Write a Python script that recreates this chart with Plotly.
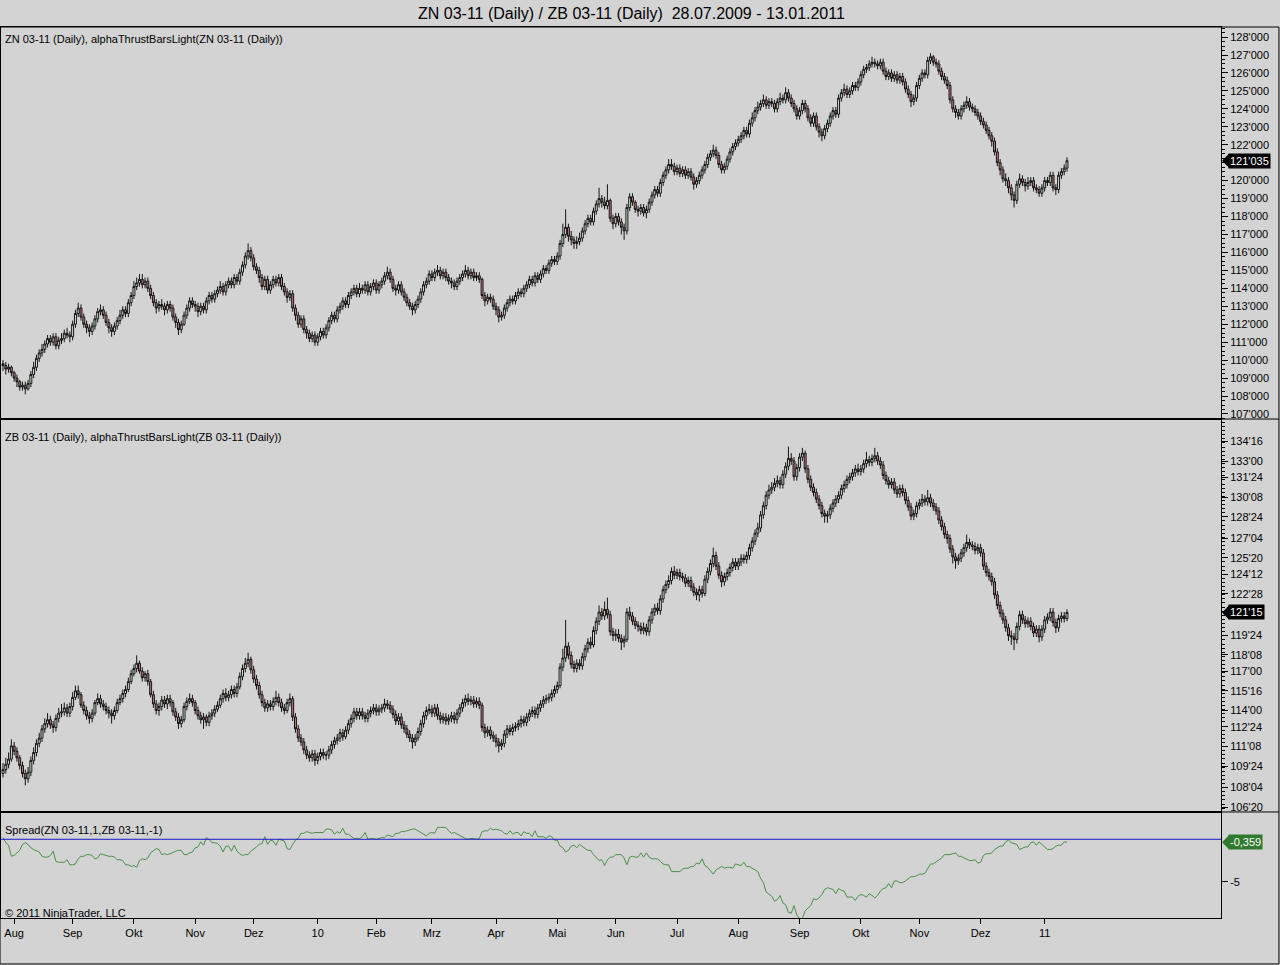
import pandas as pd
import plotly.graph_objects as go
from plotly.subplots import make_subplots

# trading days shown on the chart (one bar per weekday)
dates = pd.bdate_range('2009-07-28', '2011-01-13').strftime('%Y-%m-%d').tolist()

month_labels = ['Aug', 'Sep', 'Okt', 'Nov', 'Dez', '10', 'Feb', 'Mrz', 'Apr',
                'Mai', 'Jun', 'Jul', 'Aug', 'Sep', 'Okt', 'Nov', 'Dez', '11']

zn_open = [
    109.8, 109.7, 109.5, 109.6, 109.3, 109.0, 108.8, 108.5, 108.6, 108.4,
    108.7, 109.2, 109.6, 110.1, 110.4, 110.6, 110.9, 111.2, 111.0, 111.3,
    110.8, 111.1, 111.2, 111.5, 111.4, 111.3, 112.0, 112.6, 112.9, 112.4,
    112.0, 111.8, 111.6, 111.9, 112.3, 112.7, 112.8, 112.5, 112.1, 111.8,
    111.6, 111.9, 112.2, 112.5, 112.8, 112.6, 113.2, 113.6, 114.1, 114.3,
    114.5, 114.2, 114.4, 114.0, 113.6, 113.2, 112.9, 113.1, 113.0, 112.8,
    113.1, 112.9, 112.4, 112.1, 111.7, 112.0, 112.5, 112.9, 113.3, 113.1,
    113.0, 112.7, 113.0, 112.8, 113.3, 113.6, 113.4, 113.7, 113.9, 114.1,
    113.8, 114.2, 114.4, 114.2, 114.6, 114.4, 114.9, 115.3, 115.8, 116.1,
    115.7, 115.2, 115.0, 114.6, 114.1, 114.5, 113.9, 114.2, 114.5, 114.3,
    114.6, 114.1, 113.8, 113.5, 113.7, 112.9, 112.5, 112.0, 112.3, 111.7,
    111.5, 111.2, 111.4, 111.0, 111.3, 111.6, 111.4, 111.8, 112.2, 112.5,
    112.3, 112.8, 113.0, 113.3, 113.1, 113.6, 113.8, 114.0, 113.7, 114.0,
    113.9, 114.2, 113.8, 114.1, 114.3, 113.9, 114.2, 114.4, 114.7, 114.9,
    114.5, 114.0, 113.9, 114.2, 113.8, 113.5, 113.2, 113.0, 112.8, 113.1,
    113.4, 113.8, 114.2, 114.4, 114.8, 114.6, 114.9, 115.0, 114.7, 114.9,
    114.6, 114.4, 114.3, 114.1, 114.4, 114.6, 114.8, 115.0, 114.7, 114.9,
    114.6, 114.7, 114.5, 113.6, 113.3, 113.5, 113.4, 113.0, 112.8, 112.4,
    112.5, 112.9, 113.2, 113.4, 113.3, 113.6, 113.8, 113.7, 114.0, 114.2,
    114.5, 114.3, 114.7, 114.5, 114.8, 115.1, 115.0, 115.4, 115.6, 115.5,
    115.8, 116.5, 117.0, 117.4, 116.9, 116.7, 116.5, 116.6, 116.8, 117.2,
    117.6, 117.9, 117.7, 118.3, 118.7, 119.0, 118.8, 118.6, 118.9, 117.9,
    117.6, 118.0, 117.7, 117.4, 117.2, 118.5, 119.1, 118.8, 118.4, 118.3,
    118.5, 118.2, 118.4, 118.8, 119.2, 119.5, 119.3, 119.9, 120.3, 120.6,
    120.9, 120.8, 120.5, 120.7, 120.4, 120.6, 120.3, 120.5, 120.2, 119.8,
    120.0, 120.3, 120.6, 120.9, 121.3, 121.5, 121.7, 121.4, 120.9, 120.6,
    120.8, 121.2, 121.6, 121.9, 122.1, 122.3, 122.5, 122.8, 122.6, 123.2,
    123.5, 123.9, 124.1, 124.3, 124.5, 124.2, 124.4, 124.3, 124.0, 124.4,
    124.6, 124.5, 124.9, 124.6, 124.3, 124.0, 123.6, 123.9, 124.3, 124.0,
    123.5, 123.2, 123.6, 123.0, 122.7, 122.5, 122.9, 123.2, 123.6, 123.9,
    123.7, 124.6, 124.9, 125.1, 124.8, 125.0, 125.3, 125.2, 125.5, 125.9,
    126.2, 126.3, 126.5, 126.6, 126.5, 126.4, 126.6, 126.1, 125.8, 126.0,
    125.7, 125.9, 125.6, 125.8, 125.5, 125.1, 124.8, 124.4, 124.6, 125.3,
    125.7, 126.0, 125.9, 126.7, 126.9, 126.6, 126.5, 126.1, 125.8, 125.6,
    125.3, 124.5, 124.0, 123.8, 123.6, 124.0, 124.2, 124.4, 124.1, 124.0,
    123.8, 123.6, 123.3, 123.1, 122.8, 122.5, 122.2, 121.6, 121.0, 120.6,
    120.1, 120.0, 119.6, 119.2, 118.9, 119.8, 120.1, 119.9, 119.7, 119.9,
    120.0, 119.6, 119.5, 119.3, 119.6, 120.0, 119.9, 120.3, 119.6, 119.5,
    120.3, 120.5, 120.7,
]
zn_high = [
    110.0, 109.9, 109.8, 109.7, 109.4, 109.2, 108.9, 108.8, 108.8, 108.9,
    109.4, 109.9, 110.3, 110.6, 110.9, 111.1, 111.4, 111.4, 111.5, 111.5,
    111.3, 111.5, 111.7, 111.8, 111.6, 112.2, 112.8, 113.2, 113.1, 112.6,
    112.2, 112.0, 112.1, 112.5, 112.9, 113.1, 113.0, 112.7, 112.3, 112.0,
    112.1, 112.4, 112.8, 113.0, 113.0, 113.4, 113.8, 114.4, 114.6, 114.8,
    114.8, 114.6, 114.6, 114.2, 113.8, 113.4, 113.3, 113.4, 113.2, 113.3,
    113.3, 113.1, 112.6, 112.3, 112.2, 112.7, 113.1, 113.5, 113.5, 113.3,
    113.2, 113.2, 113.2, 113.5, 113.8, 113.8, 113.9, 114.1, 114.4, 114.3,
    114.4, 114.6, 114.6, 114.8, 114.8, 115.1, 115.5, 116.0, 116.5, 116.3,
    115.9, 115.4, 115.2, 114.8, 114.7, 114.7, 114.4, 114.7, 114.7, 114.8,
    114.8, 114.3, 114.0, 113.9, 113.9, 113.1, 112.7, 112.5, 112.5, 111.9,
    111.7, 111.6, 111.6, 111.5, 111.8, 111.8, 112.0, 112.4, 112.7, 112.7,
    113.0, 113.2, 113.5, 113.5, 113.8, 114.0, 114.2, 114.2, 114.3, 114.2,
    114.4, 114.4, 114.3, 114.5, 114.5, 114.4, 114.6, 114.9, 115.2, 115.1,
    114.7, 114.2, 114.4, 114.4, 114.0, 113.7, 113.4, 113.2, 113.3, 113.6,
    114.0, 114.4, 114.6, 115.0, 115.0, 115.1, 115.3, 115.2, 115.1, 115.1,
    114.8, 114.6, 114.5, 114.6, 114.8, 115.0, 115.3, 115.2, 115.1, 115.1,
    114.9, 114.9, 114.6, 113.8, 113.7, 113.7, 113.6, 113.2, 113.0, 112.7,
    113.1, 113.4, 113.6, 113.6, 113.8, 114.0, 114.0, 114.2, 114.4, 114.7,
    114.7, 114.9, 114.9, 115.0, 115.3, 115.3, 115.6, 115.8, 115.8, 116.0,
    116.7, 117.6, 118.4, 117.6, 117.2, 116.9, 116.9, 117.1, 117.4, 117.8,
    118.1, 118.1, 118.5, 118.9, 119.6, 119.2, 119.1, 119.8, 119.0, 118.1,
    118.2, 118.2, 117.9, 117.6, 118.7, 119.3, 119.3, 118.9, 118.6, 118.7,
    118.7, 118.6, 119.0, 119.4, 119.7, 119.7, 120.1, 120.5, 120.8, 121.2,
    121.2, 121.0, 120.9, 120.9, 120.8, 120.8, 120.7, 120.7, 120.4, 120.2,
    120.5, 120.8, 121.1, 121.5, 121.7, 122.0, 121.9, 121.6, 121.1, 121.0,
    121.4, 121.8, 122.1, 122.3, 122.5, 122.7, 123.0, 123.0, 123.4, 123.8,
    124.1, 124.4, 124.5, 124.8, 124.7, 124.6, 124.6, 124.5, 124.6, 124.9,
    124.8, 125.2, 125.1, 124.8, 124.5, 124.2, 124.1, 124.5, 124.5, 124.2,
    123.7, 123.8, 123.8, 123.2, 122.9, 123.1, 123.4, 123.8, 124.1, 124.1,
    124.8, 125.1, 125.4, 125.3, 125.2, 125.5, 125.5, 125.7, 126.1, 126.4,
    126.5, 126.7, 126.9, 126.8, 126.7, 126.8, 126.8, 126.3, 126.2, 126.2,
    126.1, 126.1, 126.0, 126.0, 125.7, 125.3, 125.0, 124.8, 125.5, 125.9,
    126.2, 126.2, 126.9, 127.1, 127.0, 126.8, 126.7, 126.3, 126.0, 125.8,
    125.5, 124.7, 124.2, 124.0, 124.2, 124.4, 124.7, 124.6, 124.3, 124.2,
    124.0, 123.8, 123.5, 123.3, 123.0, 122.7, 122.4, 121.8, 121.2, 120.8,
    120.4, 120.2, 119.8, 119.4, 120.0, 120.4, 120.3, 120.1, 120.2, 120.2,
    120.2, 119.8, 119.7, 119.8, 120.2, 120.2, 120.5, 120.5, 119.8, 120.5,
    120.7, 120.9, 121.3,
]
zn_low = [
    109.4, 109.2, 109.3, 109.1, 108.8, 108.5, 108.3, 108.3, 108.1, 108.3,
    108.5, 109.0, 109.4, 109.9, 110.2, 110.4, 110.7, 110.8, 110.8, 110.6,
    110.6, 110.9, 111.0, 111.2, 111.0, 111.1, 111.8, 112.4, 112.2, 111.8,
    111.5, 111.3, 111.4, 111.7, 112.1, 112.5, 112.3, 111.9, 111.5, 111.3,
    111.4, 111.7, 112.0, 112.3, 112.4, 112.4, 113.0, 113.4, 113.9, 114.1,
    114.0, 114.0, 113.8, 113.4, 113.0, 112.6, 112.7, 112.8, 112.5, 112.6,
    112.7, 112.2, 111.8, 111.4, 111.5, 111.9, 112.3, 112.7, 112.9, 112.7,
    112.4, 112.5, 112.6, 112.6, 113.1, 113.2, 113.2, 113.5, 113.7, 113.6,
    113.6, 114.0, 114.0, 114.0, 114.2, 114.2, 114.7, 115.1, 115.6, 115.5,
    115.0, 114.8, 114.3, 113.9, 113.9, 113.7, 113.7, 114.0, 114.1, 114.1,
    113.9, 113.6, 113.2, 113.3, 112.7, 112.2, 111.8, 111.8, 111.5, 111.2,
    111.0, 111.0, 110.8, 110.8, 111.1, 111.2, 111.2, 111.6, 112.0, 112.1,
    112.1, 112.6, 112.8, 112.9, 112.9, 113.4, 113.6, 113.5, 113.5, 113.7,
    113.7, 113.6, 113.6, 113.9, 113.7, 113.7, 114.0, 114.2, 114.5, 114.3,
    113.8, 113.6, 113.7, 113.6, 113.3, 113.0, 112.8, 112.5, 112.6, 112.9,
    113.2, 113.6, 114.0, 114.2, 114.4, 114.4, 114.7, 114.5, 114.5, 114.4,
    114.2, 114.0, 113.9, 113.9, 114.2, 114.4, 114.6, 114.5, 114.5, 114.4,
    114.4, 114.3, 113.4, 113.0, 113.1, 113.2, 112.8, 112.5, 112.1, 112.2,
    112.3, 112.7, 113.0, 113.1, 113.1, 113.4, 113.5, 113.5, 113.8, 114.0,
    114.1, 114.1, 114.3, 114.3, 114.6, 114.8, 114.8, 115.2, 115.3, 115.3,
    115.6, 116.3, 116.8, 116.6, 116.4, 116.2, 116.2, 116.4, 116.6, 117.0,
    117.4, 117.5, 117.5, 118.1, 118.5, 118.5, 118.4, 118.4, 117.7, 117.3,
    117.4, 117.5, 117.0, 116.7, 117.0, 118.3, 118.6, 118.2, 118.0, 118.1,
    118.0, 117.9, 118.2, 118.6, 119.0, 119.1, 119.1, 119.7, 120.1, 120.4,
    120.6, 120.3, 120.3, 120.2, 120.2, 120.1, 120.1, 120.0, 119.5, 119.6,
    119.8, 120.1, 120.4, 120.7, 121.1, 121.3, 121.2, 120.7, 120.4, 120.4,
    120.6, 121.0, 121.4, 121.7, 121.9, 122.1, 122.3, 122.4, 122.4, 123.0,
    123.3, 123.7, 123.9, 124.1, 124.0, 124.0, 124.1, 123.8, 123.8, 124.2,
    124.3, 124.3, 124.4, 124.1, 123.8, 123.4, 123.4, 123.7, 123.8, 123.3,
    123.0, 123.0, 122.8, 122.4, 122.2, 122.3, 122.7, 123.0, 123.4, 123.5,
    123.5, 124.4, 124.7, 124.6, 124.6, 124.8, 125.0, 125.0, 125.3, 125.7,
    126.0, 126.1, 126.3, 126.3, 126.2, 126.2, 125.9, 125.6, 125.6, 125.5,
    125.5, 125.4, 125.4, 125.3, 124.9, 124.6, 124.1, 124.2, 124.4, 125.1,
    125.5, 125.7, 125.7, 126.5, 126.4, 126.3, 125.9, 125.6, 125.4, 125.1,
    124.3, 123.8, 123.5, 123.4, 123.4, 123.8, 124.0, 123.9, 123.8, 123.6,
    123.4, 123.1, 122.9, 122.6, 122.3, 121.9, 121.4, 120.8, 120.3, 119.9,
    119.7, 119.3, 118.9, 118.5, 118.7, 119.6, 119.7, 119.4, 119.5, 119.7,
    119.4, 119.3, 119.1, 119.1, 119.4, 119.7, 119.7, 119.4, 119.2, 119.3,
    120.1, 120.3, 120.5,
]
zn_close = [
    109.7, 109.5, 109.6, 109.3, 109.0, 108.8, 108.5, 108.6, 108.4, 108.7,
    109.2, 109.6, 110.1, 110.4, 110.6, 110.9, 111.2, 111.0, 111.3, 110.8,
    111.1, 111.2, 111.5, 111.4, 111.3, 112.0, 112.6, 112.9, 112.4, 112.0,
    111.8, 111.6, 111.9, 112.3, 112.7, 112.8, 112.5, 112.1, 111.8, 111.6,
    111.9, 112.2, 112.5, 112.8, 112.6, 113.2, 113.6, 114.1, 114.3, 114.5,
    114.2, 114.4, 114.0, 113.6, 113.2, 112.9, 113.1, 113.0, 112.8, 113.1,
    112.9, 112.4, 112.1, 111.7, 112.0, 112.5, 112.9, 113.3, 113.1, 113.0,
    112.7, 113.0, 112.8, 113.3, 113.6, 113.4, 113.7, 113.9, 114.1, 113.8,
    114.2, 114.4, 114.2, 114.6, 114.4, 114.9, 115.3, 115.8, 116.1, 115.7,
    115.2, 115.0, 114.6, 114.1, 114.5, 113.9, 114.2, 114.5, 114.3, 114.6,
    114.1, 113.8, 113.5, 113.7, 112.9, 112.5, 112.0, 112.3, 111.7, 111.5,
    111.2, 111.4, 111.0, 111.3, 111.6, 111.4, 111.8, 112.2, 112.5, 112.3,
    112.8, 113.0, 113.3, 113.1, 113.6, 113.8, 114.0, 113.7, 114.0, 113.9,
    114.2, 113.8, 114.1, 114.3, 113.9, 114.2, 114.4, 114.7, 114.9, 114.5,
    114.0, 113.9, 114.2, 113.8, 113.5, 113.2, 113.0, 112.8, 113.1, 113.4,
    113.8, 114.2, 114.4, 114.8, 114.6, 114.9, 115.0, 114.7, 114.9, 114.6,
    114.4, 114.3, 114.1, 114.4, 114.6, 114.8, 115.0, 114.7, 114.9, 114.6,
    114.7, 114.5, 113.6, 113.3, 113.5, 113.4, 113.0, 112.8, 112.4, 112.5,
    112.9, 113.2, 113.4, 113.3, 113.6, 113.8, 113.7, 114.0, 114.2, 114.5,
    114.3, 114.7, 114.5, 114.8, 115.1, 115.0, 115.4, 115.6, 115.5, 115.8,
    116.5, 117.0, 117.4, 116.9, 116.7, 116.5, 116.6, 116.8, 117.2, 117.6,
    117.9, 117.7, 118.3, 118.7, 119.0, 118.8, 118.6, 118.9, 117.9, 117.6,
    118.0, 117.7, 117.4, 117.2, 118.5, 119.1, 118.8, 118.4, 118.3, 118.5,
    118.2, 118.4, 118.8, 119.2, 119.5, 119.3, 119.9, 120.3, 120.6, 120.9,
    120.8, 120.5, 120.7, 120.4, 120.6, 120.3, 120.5, 120.2, 119.8, 120.0,
    120.3, 120.6, 120.9, 121.3, 121.5, 121.7, 121.4, 120.9, 120.6, 120.8,
    121.2, 121.6, 121.9, 122.1, 122.3, 122.5, 122.8, 122.6, 123.2, 123.5,
    123.9, 124.1, 124.3, 124.5, 124.2, 124.4, 124.3, 124.0, 124.4, 124.6,
    124.5, 124.9, 124.6, 124.3, 124.0, 123.6, 123.9, 124.3, 124.0, 123.5,
    123.2, 123.6, 123.0, 122.7, 122.5, 122.9, 123.2, 123.6, 123.9, 123.7,
    124.6, 124.9, 125.1, 124.8, 125.0, 125.3, 125.2, 125.5, 125.9, 126.2,
    126.3, 126.5, 126.6, 126.5, 126.4, 126.6, 126.1, 125.8, 126.0, 125.7,
    125.9, 125.6, 125.8, 125.5, 125.1, 124.8, 124.4, 124.6, 125.3, 125.7,
    126.0, 125.9, 126.7, 126.9, 126.6, 126.5, 126.1, 125.8, 125.6, 125.3,
    124.5, 124.0, 123.8, 123.6, 124.0, 124.2, 124.4, 124.1, 124.0, 123.8,
    123.6, 123.3, 123.1, 122.8, 122.5, 122.2, 121.6, 121.0, 120.6, 120.1,
    120.0, 119.6, 119.2, 118.9, 119.8, 120.1, 119.9, 119.7, 119.9, 120.0,
    119.6, 119.5, 119.3, 119.6, 120.0, 119.9, 120.3, 119.6, 119.5, 120.3,
    120.5, 120.7, 121.109375,
]

zb_open = [
    109.2, 109.5, 109.9, 110.3, 111.3, 110.9, 110.4, 109.8, 109.2, 108.8,
    109.3, 110.2, 110.8, 111.5, 111.9, 112.6, 113.0, 113.3, 112.9, 112.7,
    113.4, 113.8, 113.9, 114.2, 113.8, 114.3, 115.0, 115.5, 115.2, 114.4,
    114.0, 113.6, 113.4, 113.8, 114.6, 114.9, 114.5, 114.3, 114.0, 113.8,
    113.6, 114.0, 114.6, 114.9, 115.3, 115.6, 116.2, 116.8, 117.2, 117.6,
    117.0, 116.5, 116.8, 116.2, 115.2, 114.5, 114.0, 114.3, 114.8, 114.5,
    114.9, 114.6, 113.9, 113.5, 113.0, 113.3, 114.3, 114.7, 114.9, 114.6,
    114.0, 113.6, 113.3, 113.5, 113.1, 113.6, 113.8, 114.1, 114.4, 114.9,
    115.3, 115.0, 115.2, 115.6, 115.3, 115.8, 116.6, 117.2, 117.6, 117.9,
    117.1, 116.4, 115.9, 115.2, 114.6, 114.2, 114.5, 114.3, 114.7, 115.0,
    114.6, 114.2, 114.0, 114.6, 114.9, 113.5, 112.6, 111.9, 111.6, 111.0,
    110.6, 110.4, 110.7, 110.2, 110.5, 110.8, 110.6, 110.6, 111.0, 111.4,
    111.7, 111.9, 112.3, 112.0, 112.5, 113.0, 113.4, 113.9, 113.6, 113.9,
    113.6, 113.4, 113.8, 114.0, 114.2, 113.9, 114.1, 114.2, 114.5, 114.4,
    114.1, 113.7, 113.2, 113.5, 112.9, 112.6, 112.2, 111.9, 111.6, 111.9,
    112.4, 113.0, 113.6, 114.0, 114.1, 113.8, 114.2, 113.6, 113.3, 113.5,
    113.2, 113.4, 113.6, 113.3, 113.8, 114.2, 114.6, 114.9, 114.7, 114.8,
    114.5, 114.7, 114.4, 112.7, 112.3, 112.5, 112.1, 111.9, 111.6, 111.3,
    111.5, 112.2, 112.6, 112.4, 112.7, 112.8, 113.0, 113.3, 113.1, 113.5,
    113.8, 114.0, 113.7, 114.2, 114.5, 114.8, 114.9, 115.0, 115.3, 115.6,
    115.9, 117.3, 118.0, 118.9, 118.2, 117.5, 117.2, 117.6, 117.4, 118.1,
    118.7, 119.2, 119.0, 120.1, 120.8, 121.5, 121.2, 121.7, 121.3, 120.0,
    119.7, 119.8, 119.5, 119.2, 119.4, 121.5, 121.2, 120.8, 120.5, 120.4,
    120.1, 120.3, 120.0, 120.9, 121.5, 121.8, 121.6, 122.5, 123.2, 123.6,
    123.9, 124.6, 124.3, 124.5, 124.2, 124.1, 123.7, 123.9, 123.4, 123.0,
    122.8, 123.2, 122.9, 124.0, 124.6, 125.2, 125.8, 125.0, 124.3, 123.8,
    124.2, 124.5, 124.9, 125.3, 125.0, 125.3, 125.6, 125.5, 125.8, 126.4,
    126.9, 127.5, 127.9, 128.9, 129.6, 130.4, 130.8, 131.0, 131.3, 131.5,
    131.2, 132.0, 132.6, 133.2, 133.0, 131.8, 132.5, 133.3, 133.6, 132.4,
    131.6, 131.0, 130.6, 130.1, 129.6, 129.0, 128.8, 128.9, 129.4, 129.8,
    130.1, 130.4, 130.9, 131.2, 131.6, 131.8, 132.1, 132.4, 132.2, 132.4,
    132.8, 133.1, 132.9, 133.2, 133.4, 133.0, 132.7, 131.9, 131.5, 131.2,
    131.4, 130.8, 130.5, 130.9, 130.6, 130.0, 129.5, 128.8, 129.0, 129.6,
    129.8, 130.1, 129.9, 130.2, 129.8, 129.5, 129.2, 128.5, 128.0, 127.4,
    127.1, 126.3, 125.7, 125.4, 125.6, 126.0, 126.4, 126.8, 126.6, 126.5,
    126.2, 126.4, 126.0, 125.0, 124.5, 124.2, 123.8, 122.8, 122.0, 121.4,
    120.9, 120.3, 119.7, 119.6, 119.4, 120.4, 121.3, 120.9, 120.6, 120.8,
    120.4, 119.9, 120.2, 119.6, 120.2, 120.9, 121.1, 121.5, 120.7, 120.3,
    121.0, 121.2, 121.0,
]
zb_high = [
    110.0, 110.4, 110.8, 111.8, 111.6, 111.2, 110.6, 110.1, 109.5, 109.7,
    110.5, 111.2, 111.8, 112.3, 112.9, 113.4, 113.8, 113.6, 113.2, 113.7,
    114.2, 114.5, 114.6, 114.5, 114.6, 115.4, 115.9, 115.9, 115.4, 114.7,
    114.3, 113.9, 114.1, 114.8, 115.3, 115.2, 114.8, 114.6, 114.3, 114.1,
    114.3, 114.9, 115.2, 115.6, 115.9, 116.5, 117.1, 117.5, 118.2, 117.8,
    117.3, 117.0, 117.1, 116.4, 115.5, 114.8, 114.6, 115.1, 115.1, 115.2,
    115.2, 114.8, 114.2, 113.8, 113.6, 114.6, 115.0, 115.3, 115.2, 114.8,
    114.3, 113.9, 113.8, 113.7, 113.9, 114.1, 114.4, 114.7, 115.2, 115.6,
    115.7, 115.5, 115.9, 115.9, 116.1, 116.9, 117.5, 118.0, 118.4, 118.1,
    117.4, 116.7, 116.2, 115.5, 114.9, 114.8, 114.8, 115.0, 115.5, 115.3,
    114.9, 114.5, 114.9, 115.3, 115.1, 113.8, 112.9, 112.2, 111.9, 111.3,
    110.9, 111.0, 111.0, 110.8, 111.1, 111.1, 110.9, 111.3, 111.7, 112.0,
    112.2, 112.6, 112.6, 112.8, 113.3, 113.7, 114.2, 114.2, 114.2, 114.2,
    113.9, 114.1, 114.3, 114.5, 114.5, 114.4, 114.5, 114.9, 114.8, 114.7,
    114.4, 114.0, 113.8, 113.8, 113.2, 112.9, 112.5, 112.2, 112.2, 112.7,
    113.3, 113.9, 114.3, 114.5, 114.4, 114.5, 114.5, 113.9, 113.8, 113.8,
    113.7, 113.9, 113.9, 114.1, 114.5, 114.9, 115.2, 115.3, 115.1, 115.1,
    115.0, 115.0, 114.6, 113.0, 112.8, 112.8, 112.4, 112.2, 111.9, 111.8,
    112.5, 112.9, 112.9, 113.0, 113.1, 113.3, 113.6, 113.6, 113.8, 114.1,
    114.3, 114.3, 114.5, 114.8, 115.1, 115.2, 115.3, 115.6, 115.9, 116.2,
    117.6, 118.7, 120.9, 119.2, 118.5, 117.8, 117.9, 117.9, 118.4, 119.0,
    119.5, 119.6, 120.4, 121.1, 122.0, 121.8, 122.3, 122.6, 121.6, 120.3,
    120.2, 120.2, 119.8, 119.7, 121.8, 121.9, 121.5, 121.1, 120.8, 120.7,
    120.7, 120.6, 121.2, 121.8, 122.1, 122.2, 122.8, 123.5, 123.9, 124.3,
    124.9, 125.0, 124.8, 124.8, 124.5, 124.4, 124.2, 124.2, 123.7, 123.3,
    123.5, 123.5, 124.3, 124.9, 125.5, 126.4, 126.1, 125.3, 124.6, 124.5,
    124.8, 125.2, 125.6, 125.6, 125.6, 125.9, 125.9, 126.1, 126.7, 127.2,
    127.8, 128.3, 129.2, 129.9, 130.7, 131.2, 131.4, 131.7, 131.9, 131.8,
    132.3, 132.9, 134.1, 133.6, 133.3, 132.8, 133.6, 134.0, 133.8, 132.7,
    131.9, 131.3, 130.9, 130.4, 129.9, 129.3, 129.2, 129.7, 130.1, 130.4,
    130.7, 131.2, 131.5, 131.9, 132.1, 132.4, 132.7, 132.8, 132.7, 133.1,
    133.7, 133.4, 133.5, 134.0, 133.7, 133.3, 133.0, 132.2, 131.8, 131.7,
    131.7, 131.1, 131.2, 131.2, 130.9, 130.3, 129.8, 129.3, 129.9, 130.1,
    130.5, 130.4, 130.8, 130.5, 130.1, 129.8, 129.5, 128.8, 128.3, 127.7,
    127.4, 126.6, 126.0, 125.9, 126.3, 126.7, 127.4, 127.1, 126.9, 126.8,
    126.7, 126.7, 126.3, 125.3, 124.8, 124.5, 124.1, 123.1, 122.3, 121.7,
    121.2, 120.6, 120.1, 119.9, 120.7, 121.6, 121.6, 121.2, 121.1, 121.1,
    120.7, 120.5, 120.5, 120.5, 121.2, 121.4, 121.8, 121.8, 121.0, 121.3,
    121.5, 121.5, 121.7,
]
zb_low = [
    108.9, 109.2, 109.6, 110.1, 110.6, 110.1, 109.5, 108.9, 108.3, 108.5,
    109.0, 109.9, 110.5, 111.2, 111.6, 112.3, 112.7, 112.6, 112.3, 112.4,
    113.1, 113.5, 113.6, 113.5, 113.5, 114.0, 114.8, 114.9, 114.2, 113.7,
    113.3, 113.0, 113.1, 113.6, 114.4, 114.2, 114.0, 113.7, 113.4, 113.0,
    113.3, 113.8, 114.4, 114.6, 115.0, 115.4, 116.0, 116.6, 116.9, 116.8,
    116.2, 116.2, 115.9, 115.0, 114.2, 113.7, 113.6, 114.0, 114.2, 114.1,
    114.3, 113.6, 113.2, 112.6, 112.7, 113.1, 114.0, 114.5, 114.3, 113.7,
    113.3, 113.0, 112.6, 112.8, 112.8, 113.3, 113.5, 113.9, 114.2, 114.6,
    114.7, 114.7, 114.9, 115.0, 115.0, 115.6, 116.3, 116.9, 117.3, 116.8,
    116.1, 115.6, 114.9, 114.3, 113.9, 113.9, 114.0, 114.0, 114.4, 114.3,
    113.9, 113.7, 113.8, 114.3, 113.2, 112.3, 111.6, 111.3, 110.7, 110.3,
    110.1, 110.1, 109.8, 109.9, 110.2, 110.3, 110.2, 110.3, 110.7, 111.1,
    111.4, 111.6, 111.7, 111.8, 112.2, 112.7, 113.1, 113.3, 113.3, 113.3,
    113.1, 113.1, 113.5, 113.7, 113.6, 113.6, 113.8, 113.9, 114.1, 113.8,
    113.4, 112.9, 112.9, 112.6, 112.3, 111.9, 111.6, 111.1, 111.3, 111.7,
    112.1, 112.7, 113.3, 113.7, 113.5, 113.5, 113.3, 113.0, 113.0, 112.9,
    112.9, 113.1, 113.0, 113.0, 113.5, 113.9, 114.3, 114.4, 114.4, 114.2,
    114.2, 114.1, 112.4, 111.9, 112.0, 111.8, 111.6, 111.2, 110.8, 111.0,
    111.2, 111.9, 112.1, 112.1, 112.4, 112.5, 112.7, 112.8, 112.8, 113.2,
    113.5, 113.4, 113.4, 113.9, 114.2, 114.5, 114.6, 114.7, 115.0, 115.3,
    115.7, 117.0, 117.7, 117.9, 117.2, 116.9, 116.9, 117.1, 117.1, 117.8,
    118.4, 118.7, 118.8, 119.8, 120.5, 120.9, 120.9, 121.0, 119.7, 119.3,
    119.3, 119.2, 118.6, 118.8, 119.2, 120.9, 120.5, 120.2, 120.0, 119.8,
    119.8, 119.7, 119.7, 120.6, 121.2, 121.3, 121.3, 122.2, 122.9, 123.3,
    123.6, 124.0, 124.0, 123.9, 123.8, 123.4, 123.4, 123.1, 122.7, 122.4,
    122.3, 122.6, 122.7, 123.7, 124.3, 124.9, 124.7, 124.0, 123.4, 123.5,
    123.9, 124.2, 124.6, 124.7, 124.7, 125.0, 125.2, 125.2, 125.5, 126.1,
    126.6, 127.2, 127.6, 128.6, 129.3, 130.1, 130.5, 130.7, 131.0, 130.9,
    130.9, 131.7, 132.3, 132.7, 131.5, 131.5, 132.2, 133.0, 132.1, 131.3,
    130.7, 130.3, 129.8, 129.3, 128.7, 128.3, 128.3, 128.6, 129.1, 129.5,
    129.8, 130.1, 130.6, 130.9, 131.3, 131.5, 131.8, 131.9, 131.9, 132.1,
    132.5, 132.6, 132.6, 132.9, 132.7, 132.4, 131.6, 131.2, 130.9, 130.9,
    130.5, 130.2, 130.2, 130.3, 129.7, 129.2, 128.5, 128.5, 128.7, 129.3,
    129.5, 129.6, 129.6, 129.5, 129.2, 128.9, 128.2, 127.7, 127.1, 126.7,
    126.0, 125.2, 124.8, 125.1, 125.3, 125.7, 126.1, 126.3, 126.2, 125.9,
    125.9, 125.7, 124.7, 124.2, 123.9, 123.5, 122.5, 121.7, 121.1, 120.6,
    120.0, 119.3, 119.0, 118.6, 119.1, 120.1, 120.6, 120.3, 120.3, 120.1,
    119.6, 119.6, 119.2, 119.3, 119.9, 120.6, 120.8, 120.4, 119.9, 120.0,
    120.7, 120.7, 120.8,
]
zb_close = [
    109.5, 109.9, 110.3, 111.3, 110.9, 110.4, 109.8, 109.2, 108.8, 109.3,
    110.2, 110.8, 111.5, 111.9, 112.6, 113.0, 113.3, 112.9, 112.7, 113.4,
    113.8, 113.9, 114.2, 113.8, 114.3, 115.0, 115.5, 115.2, 114.4, 114.0,
    113.6, 113.4, 113.8, 114.6, 114.9, 114.5, 114.3, 114.0, 113.8, 113.6,
    114.0, 114.6, 114.9, 115.3, 115.6, 116.2, 116.8, 117.2, 117.6, 117.0,
    116.5, 116.8, 116.2, 115.2, 114.5, 114.0, 114.3, 114.8, 114.5, 114.9,
    114.6, 113.9, 113.5, 113.0, 113.3, 114.3, 114.7, 114.9, 114.6, 114.0,
    113.6, 113.3, 113.5, 113.1, 113.6, 113.8, 114.1, 114.4, 114.9, 115.3,
    115.0, 115.2, 115.6, 115.3, 115.8, 116.6, 117.2, 117.6, 117.9, 117.1,
    116.4, 115.9, 115.2, 114.6, 114.2, 114.5, 114.3, 114.7, 115.0, 114.6,
    114.2, 114.0, 114.6, 114.9, 113.5, 112.6, 111.9, 111.6, 111.0, 110.6,
    110.4, 110.7, 110.2, 110.5, 110.8, 110.6, 110.6, 111.0, 111.4, 111.7,
    111.9, 112.3, 112.0, 112.5, 113.0, 113.4, 113.9, 113.6, 113.9, 113.6,
    113.4, 113.8, 114.0, 114.2, 113.9, 114.1, 114.2, 114.5, 114.4, 114.1,
    113.7, 113.2, 113.5, 112.9, 112.6, 112.2, 111.9, 111.6, 111.9, 112.4,
    113.0, 113.6, 114.0, 114.1, 113.8, 114.2, 113.6, 113.3, 113.5, 113.2,
    113.4, 113.6, 113.3, 113.8, 114.2, 114.6, 114.9, 114.7, 114.8, 114.5,
    114.7, 114.4, 112.7, 112.3, 112.5, 112.1, 111.9, 111.6, 111.3, 111.5,
    112.2, 112.6, 112.4, 112.7, 112.8, 113.0, 113.3, 113.1, 113.5, 113.8,
    114.0, 113.7, 114.2, 114.5, 114.8, 114.9, 115.0, 115.3, 115.6, 115.9,
    117.3, 118.0, 118.9, 118.2, 117.5, 117.2, 117.6, 117.4, 118.1, 118.7,
    119.2, 119.0, 120.1, 120.8, 121.5, 121.2, 121.7, 121.3, 120.0, 119.7,
    119.8, 119.5, 119.2, 119.4, 121.5, 121.2, 120.8, 120.5, 120.4, 120.1,
    120.3, 120.0, 120.9, 121.5, 121.8, 121.6, 122.5, 123.2, 123.6, 123.9,
    124.6, 124.3, 124.5, 124.2, 124.1, 123.7, 123.9, 123.4, 123.0, 122.8,
    123.2, 122.9, 124.0, 124.6, 125.2, 125.8, 125.0, 124.3, 123.8, 124.2,
    124.5, 124.9, 125.3, 125.0, 125.3, 125.6, 125.5, 125.8, 126.4, 126.9,
    127.5, 127.9, 128.9, 129.6, 130.4, 130.8, 131.0, 131.3, 131.5, 131.2,
    132.0, 132.6, 133.2, 133.0, 131.8, 132.5, 133.3, 133.6, 132.4, 131.6,
    131.0, 130.6, 130.1, 129.6, 129.0, 128.8, 128.9, 129.4, 129.8, 130.1,
    130.4, 130.9, 131.2, 131.6, 131.8, 132.1, 132.4, 132.2, 132.4, 132.8,
    133.1, 132.9, 133.2, 133.4, 133.0, 132.7, 131.9, 131.5, 131.2, 131.4,
    130.8, 130.5, 130.9, 130.6, 130.0, 129.5, 128.8, 129.0, 129.6, 129.8,
    130.1, 129.9, 130.2, 129.8, 129.5, 129.2, 128.5, 128.0, 127.4, 127.1,
    126.3, 125.7, 125.4, 125.6, 126.0, 126.4, 126.8, 126.6, 126.5, 126.2,
    126.4, 126.0, 125.0, 124.5, 124.2, 123.8, 122.8, 122.0, 121.4, 120.9,
    120.3, 119.7, 119.6, 119.4, 120.4, 121.3, 120.9, 120.6, 120.8, 120.4,
    119.9, 120.2, 119.6, 120.2, 120.9, 121.1, 121.5, 120.7, 120.3, 121.0,
    121.2, 121.0, 121.46875,
]

zn_ticks = list(range(107, 129))
zb_ticks = [134.5, 133.0, 131.75, 130.25, 128.75, 127.125, 125.625, 124.375,
            122.875, 119.75, 118.25, 117.0, 115.5, 114.0, 112.75, 111.25,
            109.75, 108.125, 106.625]

BG = '#D3D3D3'
FONT = 'Liberation Sans, Arial, sans-serif'
UP_FILL = '#D6EDD6'
DOWN_FILL = '#C47C7C'
SPREAD_GREEN = '#4B8F4B'


def fmt_zn(v):
    # 32nds with half ticks: 121'035
    whole = int(v)
    f = (v - whole) * 32
    return "{}'{:02d}{}".format(whole, int(f), int(round((f - int(f)) * 10)))


def fmt_zb(v):
    whole = int(v)
    return "{}'{:02d}".format(whole, int(round((v - whole) * 32)))


spread = [a - b for a, b in zip(zn_close, zb_close)]

# first trading day of every month after the start month
month_starts = []
seen = set()
for d in dates:
    if d[:7] not in seen:
        seen.add(d[:7])
        month_starts.append(d)
month_starts = month_starts[1:]

fig = make_subplots(rows=3, cols=1, shared_xaxes=True, vertical_spacing=0,
                    row_heights=[392, 393, 106])

candle_style = dict(
    increasing=dict(line=dict(color='#141414', width=1), fillcolor=UP_FILL),
    decreasing=dict(line=dict(color='#141414', width=1), fillcolor=DOWN_FILL),
    showlegend=False, hoverinfo='skip',
)
fig.add_trace(go.Candlestick(x=dates, open=zn_open, high=zn_high, low=zn_low,
                             close=zn_close, **candle_style), row=1, col=1)
fig.add_trace(go.Candlestick(x=dates, open=zb_open, high=zb_high, low=zb_low,
                             close=zb_close, **candle_style), row=2, col=1)
fig.add_trace(go.Scatter(x=dates, y=spread, mode='lines', showlegend=False,
                         line=dict(color=SPREAD_GREEN, width=1), hoverinfo='skip'),
              row=3, col=1)
fig.add_hline(y=0, line=dict(color='#1A1ACC', width=1), row=3, col=1)

tick_font = dict(family=FONT, size=11, color='black')
fig.update_xaxes(type='category', range=[-0.72, 437.3], showgrid=False,
                 showline=True, linecolor='black', linewidth=1, mirror=True,
                 rangeslider_visible=False, zeroline=False)
fig.update_xaxes(tickmode='array', tickvals=month_starts, ticktext=month_labels,
                 ticks='outside', ticklen=5, tickcolor='black', tickfont=tick_font,
                 row=3, col=1)
fig.update_yaxes(side='right', showgrid=False, zeroline=False, showline=True,
                 linecolor='black', linewidth=1, mirror=True, ticks='outside',
                 ticklen=6, tickcolor='black', tickfont=tick_font)
fig.update_yaxes(range=[106.72, 128.56], tickmode='array', tickvals=zn_ticks,
                 ticktext=["{}'000".format(v) for v in zn_ticks],
                 minor=dict(ticks='outside', ticklen=3, dtick=0.25, tick0=0, tickcolor='black'),
                 row=1, col=1)
fig.update_yaxes(range=[106.27, 136.2], tickmode='array', tickvals=zb_ticks,
                 ticktext=[fmt_zb(v) for v in zb_ticks],
                 minor=dict(ticks='outside', ticklen=3, dtick=0.3125, tick0=0, tickcolor='black'),
                 row=2, col=1)
fig.update_yaxes(range=[-9.26, 3.21], tickmode='array', tickvals=[-5],
                 ticktext=['-5'], row=3, col=1)

text_font = dict(family=FONT, size=11, color='black')
annotations = [
    dict(x=0.517, y=1.0157, xanchor='center',
         text='ZN 03-11 (Daily) / ZB 03-11 (Daily) \u00a028.07.2009 - 13.01.2011',
         font=dict(family=FONT, size=16, color='black')),
    dict(x=0.0016, y=0.9865, text='ZN 03-11 (Daily), alphaThrustBarsLight(ZN 03-11 (Daily))'),
    dict(x=0.0016, y=0.5398, text='ZB 03-11 (Daily), alphaThrustBarsLight(ZB 03-11 (Daily))'),
    dict(x=0.0016, y=0.0988, text='Spread(ZN 03-11,1,ZB 03-11,-1)'),
    dict(x=0.0016, y=0.0056, text='\u00a9 2011 NinjaTrader, LLC'),
]
for a in annotations:
    a.setdefault('xref', 'paper')
    a.setdefault('yref', 'paper')
    a.setdefault('showarrow', False)
    a.setdefault('xanchor', 'left')
    a.setdefault('yanchor', 'middle')
    a.setdefault('font', text_font)
    fig.add_annotation(**a)

# last value markers on the price scales
last_labels = [
    ('y', zn_close[-1], fmt_zn(zn_close[-1]), 'black'),
    ('y2', zb_close[-1], fmt_zb(zb_close[-1]), 'black'),
    ('y3', spread[-1], '{:.3f}'.format(spread[-1]).replace('.', ','), '#2F7A2F'),
]
shapes = []
for yref, val, label, color in last_labels:
    fig.add_annotation(x=1, y=val, xref='paper', yref=yref, text=label,
                       showarrow=False, xanchor='left', yanchor='middle', xshift=7,
                       bgcolor=color, borderpad=1,
                       font=dict(family=FONT, size=11, color='white'))
    shapes.append(dict(type='path', xref='paper', yref=yref, xsizemode='pixel',
                       ysizemode='pixel', xanchor=1, yanchor=val,
                       path='M 1 0 L 8 7 L 8 -7 Z', fillcolor=color,
                       line=dict(width=0)))

# outer frame and full-width panel separators
shapes.append(dict(type='rect', xref='paper', yref='paper', x0=-0.0008, x1=1.0475,
                   y0=-0.0516, y1=1.0, line=dict(color='black', width=1)))
for yy in [0.5600, 0.1190]:
    shapes.append(dict(type='line', xref='paper', yref='paper', x0=-0.0008, x1=1.0475,
                       y0=yy, y1=yy, line=dict(color='black', width=1)))
for s in shapes:
    fig.add_shape(**s)

fig.update_layout(
    width=1280, height=965,
    margin=dict(l=1, r=59, t=27, b=47),
    paper_bgcolor=BG, plot_bgcolor=BG,
    boxgap=0.0,
    font=dict(family=FONT, color='black'),
    hovermode=False,
    showlegend=False,
)

# drop the default page margin so the chart sits at the window's corner
fig.write_html('out.html', config={'displayModeBar': False},
               post_script="document.body.style.margin='0';document.body.style.background='#D3D3D3';")
